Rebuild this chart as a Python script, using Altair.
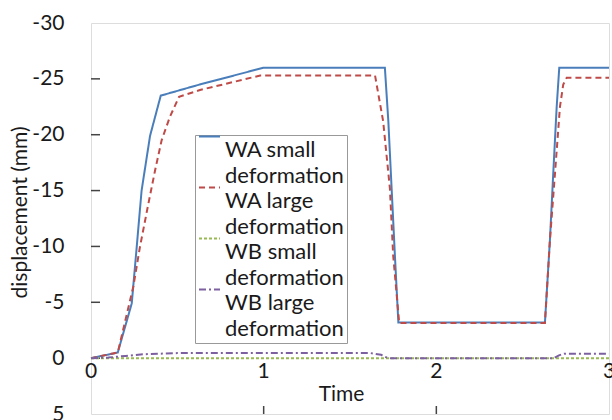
import altair as alt
import pandas as pd

series = ["WA small", "WA large", "WB small", "WB large"]
colors = ["#4A7EBB", "#BE4B48", "#98B954", "#7D60A0"]
dashes = [[1, 0], [6, 4], [3, 2], [7, 3, 2, 3]]
widths = [2, 2, 1.3, 1.5]

wa_small_t = [0, 0.155, 0.236, 0.265, 0.293, 0.342, 0.404, 0.631, 1.0, 1.702, 1.722, 1.741, 1.76, 1.78,
              2.629, 2.658, 2.677, 2.697, 2.712, 3.0]
wa_small_v = [0, -0.5, -4.9, -10.0, -15.0, -19.9, -23.5, -24.5, -26.0, -26.0, -21.2, -15.2, -9.2, -3.2,
              -3.2, -10.6, -16.5, -22.5, -26.0, -26.0]

wa_large_t = [0, 0.155, 0.245, 0.284, 0.332, 0.371, 0.409, 0.457, 0.51, 0.631, 0.98, 1.645, 1.692, 1.731,
              1.75, 1.785, 2.629, 2.658, 2.687, 2.716, 2.735, 2.755, 3.0]
wa_large_v = [0, -0.5, -6.4, -10.0, -13.8, -16.8, -19.5, -21.6, -23.4, -24.0, -25.3, -25.3, -21.2, -15.2,
              -9.2, -3.15, -3.15, -10.6, -16.5, -22.5, -24.5, -25.1, -25.1]

wb_small_t = [0, 1, 2, 3]
wb_small_v = [0, 0, 0, 0]

wb_large_t = [0, 0.1, 0.2, 0.3, 0.5, 1.0, 1.62, 1.68, 1.72, 2.68, 2.71, 2.74, 3.0]
wb_large_v = [0, -0.05, -0.2, -0.35, -0.45, -0.45, -0.45, -0.3, 0, 0, -0.25, -0.4, -0.4]

y_ticks = [-30, -25, -20, -15, -10, -5, 0, 5]
x_labels = ["0", "1", "2", "3"]
x_label_pos = [0, 1, 2, 3]
x_inner_ticks = [1, 2]
y_inner_ticks = [-25, -20, -15, -10, -5, 0]

rows = []
for name, ts, vs in [("WA small", wa_small_t, wa_small_v), ("WA large", wa_large_t, wa_large_v),
                     ("WB small", wb_small_t, wb_small_v), ("WB large", wb_large_t, wb_large_v)]:
    for i, (t, v) in enumerate(zip(ts, vs)):
        rows.append({"series": name, "time": t, "disp": v, "idx": i})
df = pd.DataFrame(rows)

W, H = 518, 391
FONT = "Lato"
TXT = "#1a1a1a"
xs = alt.Scale(domain=[0, 3], nice=False, zero=False)
ys = alt.Scale(domain=[-30, 5], reverse=True, nice=False, zero=False)

leg = alt.Legend(title=None, orient="none", legendX=104, legendY=112, direction="vertical",
                 padding=3, strokeColor="#999999", fillColor="white",
                 symbolType="M-1,-1.24L1,-1.24", symbolSize=441, symbolStrokeWidth=2,
                 labelFont=FONT, labelFontSize=22, labelColor=TXT,
                 labelExpr="[datum.label, 'deformation']", labelOffset=4, labelLimit=0,
                 rowPadding=-4, cornerRadius=0)

lines = alt.Chart(df).mark_line().encode(
    x=alt.X("time:Q", scale=xs,
            axis=alt.Axis(title="Time", labels=False, ticks=False, domain=False, grid=False,
                          titleX=250, titleY=-14, titleBaseline="alphabetic", titleAlign="center",
                          titleFontSize=21, titleFontWeight="normal", titleFont=FONT, titleColor=TXT)),
    y=alt.Y("disp:Q", scale=ys,
            axis=alt.Axis(title="displacement (mm)", values=y_ticks, labelExpr="toString(datum.value)",
                          ticks=False, domain=False, grid=False, labelPadding=27,
                          labelFont=FONT, labelFontSize=21, labelColor=TXT,
                          titleX=-71, titleY=189, titleAngle=270, titleAlign="center",
                          titleBaseline="middle", titleFont=FONT, titleFontSize=21,
                          titleFontWeight="normal", titleColor=TXT)),
    color=alt.Color("series:N", scale=alt.Scale(domain=series, range=colors), legend=leg),
    strokeDash=alt.StrokeDash("series:N", scale=alt.Scale(domain=series, range=dashes), legend=leg),
    strokeWidth=alt.StrokeWidth("series:N", scale=alt.Scale(domain=series, range=widths), legend=None),
    order="idx:Q",
)

xlab_df = pd.DataFrame({"t": x_label_pos, "label": x_labels})
xlab = alt.Chart(xlab_df).mark_text(baseline="top", dy=3, fontSize=21, font=FONT, color=TXT).encode(
    x=alt.X("t:Q", scale=xs), y=alt.datum(0), text="label:N")

yt_df = pd.DataFrame({"v": y_inner_ticks})
ytk = alt.Chart(yt_df).mark_rule(color="#444444", strokeWidth=1.5).encode(
    x=alt.value(0), x2=alt.value(9), y=alt.Y("v:Q", scale=ys))

xt_df = pd.DataFrame({"t": x_inner_ticks})
xtk = alt.Chart(xt_df).mark_rule(color="#444444", strokeWidth=1.5).encode(
    x=alt.X("t:Q", scale=xs), y=alt.value(H), y2=alt.value(H - 8))

chart = alt.layer(ytk, xtk, lines, xlab).properties(
    width=W, height=H,
    autosize=alt.AutoSizeParams(type="none"),
    padding={"left": 91, "top": 23, "right": 3, "bottom": 6},
).configure_view(stroke="#4d4d4d", strokeWidth=1.8).configure(
    font=FONT, style={"guide-label": {"lineHeight": 26}}
)

chart.save("out.html", embed_options={"renderer": "svg", "actions": False})
